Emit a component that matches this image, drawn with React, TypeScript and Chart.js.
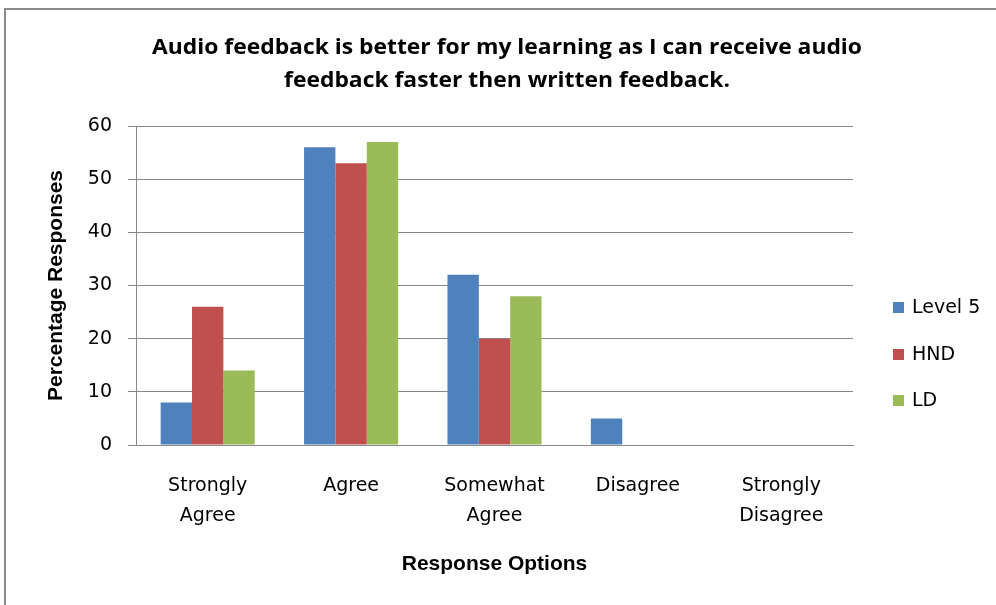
import React, { useEffect, useRef } from "react";
import { Chart, registerables } from "chart.js";

Chart.register(...registerables);

const categories: string[][] = [
  ["Strongly", "Agree"],
  ["Agree"],
  ["Somewhat", "Agree"],
  ["Disagree"],
  ["Strongly", "Disagree"],
];
const seriesNames = ["Level 5", "HND", "LD"];
const level5 = [8, 56, 32, 5, 0];
const hnd = [26, 53, 20, 0, 0];
const ld = [14, 57, 28, 0, 0];
const colors = ["#4F81BD", "#C0504D", "#9BBB59"];
const titleLines = [
  "Audio feedback is better for my learning as I can receive audio",
  "feedback faster then written feedback.",
];
const yTitle = "Percentage Responses";
const xTitle = "Response Options";

const W = 996;
const H = 605;
const PLOT_LEFT = 136;
const PLOT_RIGHT = 853;
const PLOT_TOP = 126;
const PLOT_BOTTOM = 445;

const decorPlugin = {
  id: "decor",
  beforeDraw(chart: any) {
    const ctx = chart.ctx;
    ctx.save();
    ctx.fillStyle = "#ffffff";
    ctx.fillRect(0, 0, W, H);
    ctx.strokeStyle = "#8c8c8c";
    ctx.lineWidth = 2;
    ctx.strokeRect(5, 9, W + 20, H + 20);
    ctx.restore();
  },
  afterDraw(chart: any) {
    const ctx = chart.ctx;
    ctx.save();
    ctx.fillStyle = "#000000";
    ctx.font = "bold 21px 'Open Sans'";
    ctx.textAlign = "center";
    ctx.textBaseline = "middle";
    const w0 = ctx.measureText(titleLines[0]).width;
    const sx = 710 / w0;
    const centers = [48, 81];
    titleLines.forEach((line, i) => {
      ctx.save();
      ctx.translate(507, centers[i]);
      ctx.scale(sx, 1);
      ctx.fillText(line, 0, 0);
      ctx.restore();
    });
    // legend
    const rows = [307, 354, 400];
    ctx.font = "19px 'DejaVu Sans'";
    ctx.textAlign = "left";
    chart.data.datasets.forEach((ds: any, i: number) => {
      ctx.fillStyle = ds.backgroundColor;
      ctx.fillRect(893, rows[i] - 5, 11, 11);
      ctx.fillStyle = "#000000";
      ctx.fillText(ds.label, 912, rows[i] + 1);
    });
    ctx.restore();
  },
};

export default function App() {
  const ref = useRef<HTMLCanvasElement | null>(null);
  useEffect(() => {
    document.body.style.margin = "0";
    const canvas = ref.current!;
    const chart = new Chart(canvas, {
      type: "bar",
      data: {
        labels: categories,
        datasets: [level5, hnd, ld].map((d, i) => ({
          label: seriesNames[i],
          data: d,
          backgroundColor: colors[i],
          borderWidth: 0,
          categoryPercentage: 0.656,
          barPercentage: 1,
        })),
      },
      options: {
        animation: false,
        responsive: false,
        devicePixelRatio: 1,
        layout: {
          padding: { top: PLOT_TOP, right: W - PLOT_RIGHT, left: 0, bottom: 0 },
        },
        plugins: {
          legend: { display: false },
          title: { display: false },
          tooltip: { enabled: false },
        },
        scales: {
          x: {
            afterFit(scale: any) {
              scale.height = H - PLOT_BOTTOM;
            },
            grid: { display: false, drawTicks: false },
            border: { display: true, color: "#888888", width: 1 },
            ticks: {
              color: "#000000",
              font: { family: "'DejaVu Sans'", size: 19, lineHeight: 1.58 },
              padding: 26,
              maxRotation: 0,
              autoSkip: false,
            },
            title: {
              display: true,
              text: xTitle,
              color: "#000000",
              font: { family: "'Liberation Sans'", size: 21, weight: "bold", lineHeight: 1.2 },
              padding: { top: 28, bottom: 28 },
            },
          },
          y: {
            min: 0,
            max: 60,
            afterFit(scale: any) {
              scale.width = PLOT_LEFT;
            },
            ticks: {
              stepSize: 10,
              color: "#000000",
              font: { family: "'DejaVu Sans'", size: 19 },
              padding: 16,
            },
            grid: { color: "#888888", lineWidth: 1, tickLength: 8 },
            border: { display: true, color: "#888888", width: 1 },
            title: {
              display: true,
              text: yTitle,
              color: "#000000",
              font: { family: "'Liberation Sans'", size: 21, weight: "bold", lineHeight: 1.2 },
              padding: { top: 44, bottom: 44 },
            },
          },
        },
      },
      plugins: [decorPlugin],
    });
    return () => chart.destroy();
  }, []);
  return (
    <div style={{ width: W, height: H }}>
      <canvas ref={ref} width={W} height={H} style={{ display: "block" }} />
    </div>
  );
}
